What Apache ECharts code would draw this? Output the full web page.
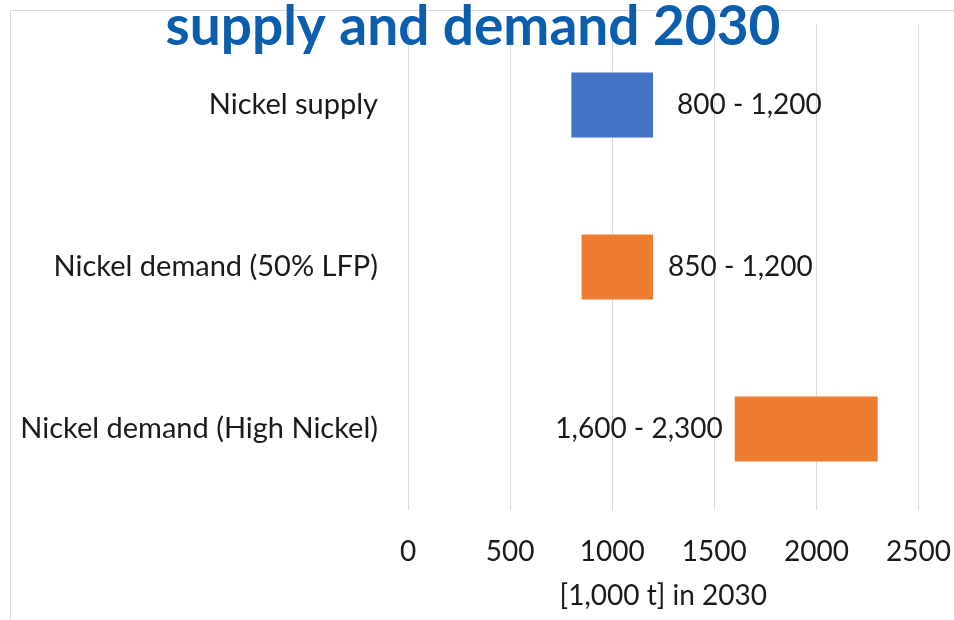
<!DOCTYPE html>
<html>
<head>
<meta charset="utf-8">
<script src="https://cdn.jsdelivr.net/npm/echarts@6/dist/echarts.min.js"></script>
<style>
  html, body { margin: 0; padding: 0; background: #ffffff; }
  #chart { width: 954px; height: 620px; }
</style>
</head>
<body>
<div id="chart"></div>
<script>
// Nickel supply and demand ranges for 2030, in thousand tonnes
const categories = ['Nickel supply', 'Nickel demand (50% LFP)', 'Nickel demand (High Nickel)'];
const lowValues = [800, 850, 1600];
const highValues = [1200, 1200, 2300];
const barColors = ['#4472C4', '#ED7D31', '#ED7D31'];
const xTicks = { min: 0, max: 2500, interval: 500 };

const FONT = 'Lato';
const fmt = v => v.toLocaleString('en-US');

// Per-bar label placement: first two to the right of the bar, last one to its left
const labelSide = ['right', 'right', 'left'];
const labelGap = [24, 15, 12];

const chart = echarts.init(document.getElementById('chart'));

chart.setOption({
  backgroundColor: '#ffffff',
  animation: false,
  title: {
    text: 'supply and demand 2030',
    left: 468,
    textAlign: 'center',
    top: -5,
    textStyle: {
      fontFamily: FONT,
      fontWeight: 'bold',
      fontSize: 55,
      color: '#0B5DAD'
    }
  },
  graphic: [{
    type: 'rect',
    silent: true,
    z: -1,
    shape: { x: 10.5, y: 10.5, width: 1200, height: 1200 },
    style: { fill: 'none', stroke: '#d9d9d9', lineWidth: 1 }
  }],
  grid: {
    left: 408,
    right: 34.5,
    top: 24,
    bottom: 110
  },
  xAxis: {
    type: 'value',
    min: xTicks.min,
    max: xTicks.max,
    interval: xTicks.interval,
    axisLine: { show: false },
    axisTick: { show: false },
    axisLabel: {
      margin: 28,
      fontFamily: FONT,
      fontSize: 28,
      color: '#1a1a1a',
      formatter: v => String(v)
    },
    splitLine: { show: true, lineStyle: { color: '#d9d9d9', width: 1 } },
    name: '[1,000 t] in 2030',
    nameLocation: 'middle',
    nameGap: 72,
    nameTextStyle: {
      fontFamily: FONT,
      fontSize: 28,
      color: '#1a1a1a'
    }
  },
  yAxis: {
    type: 'category',
    data: categories,
    inverse: true,
    axisLine: { show: false },
    axisTick: { show: false },
    splitLine: { show: false },
    axisLabel: {
      margin: 30,
      fontFamily: FONT,
      fontSize: 29,
      color: '#1a1a1a'
    }
  },
  series: [
    {
      name: 'base',
      type: 'bar',
      stack: 'range',
      barWidth: 65,
      silent: true,
      itemStyle: { color: 'transparent' },
      data: lowValues
    },
    {
      name: 'range',
      type: 'bar',
      stack: 'range',
      barWidth: 65,
      data: highValues.map((h, i) => ({
        value: h - lowValues[i],
        itemStyle: { color: barColors[i] },
        label: {
          show: true,
          position: labelSide[i],
          distance: labelGap[i],
          formatter: () => fmt(lowValues[i]) + ' - ' + fmt(highValues[i]),
          fontFamily: FONT,
          fontSize: 28,
          color: '#1a1a1a'
        }
      }))
    }
  ]
});
</script>
</body>
</html>
